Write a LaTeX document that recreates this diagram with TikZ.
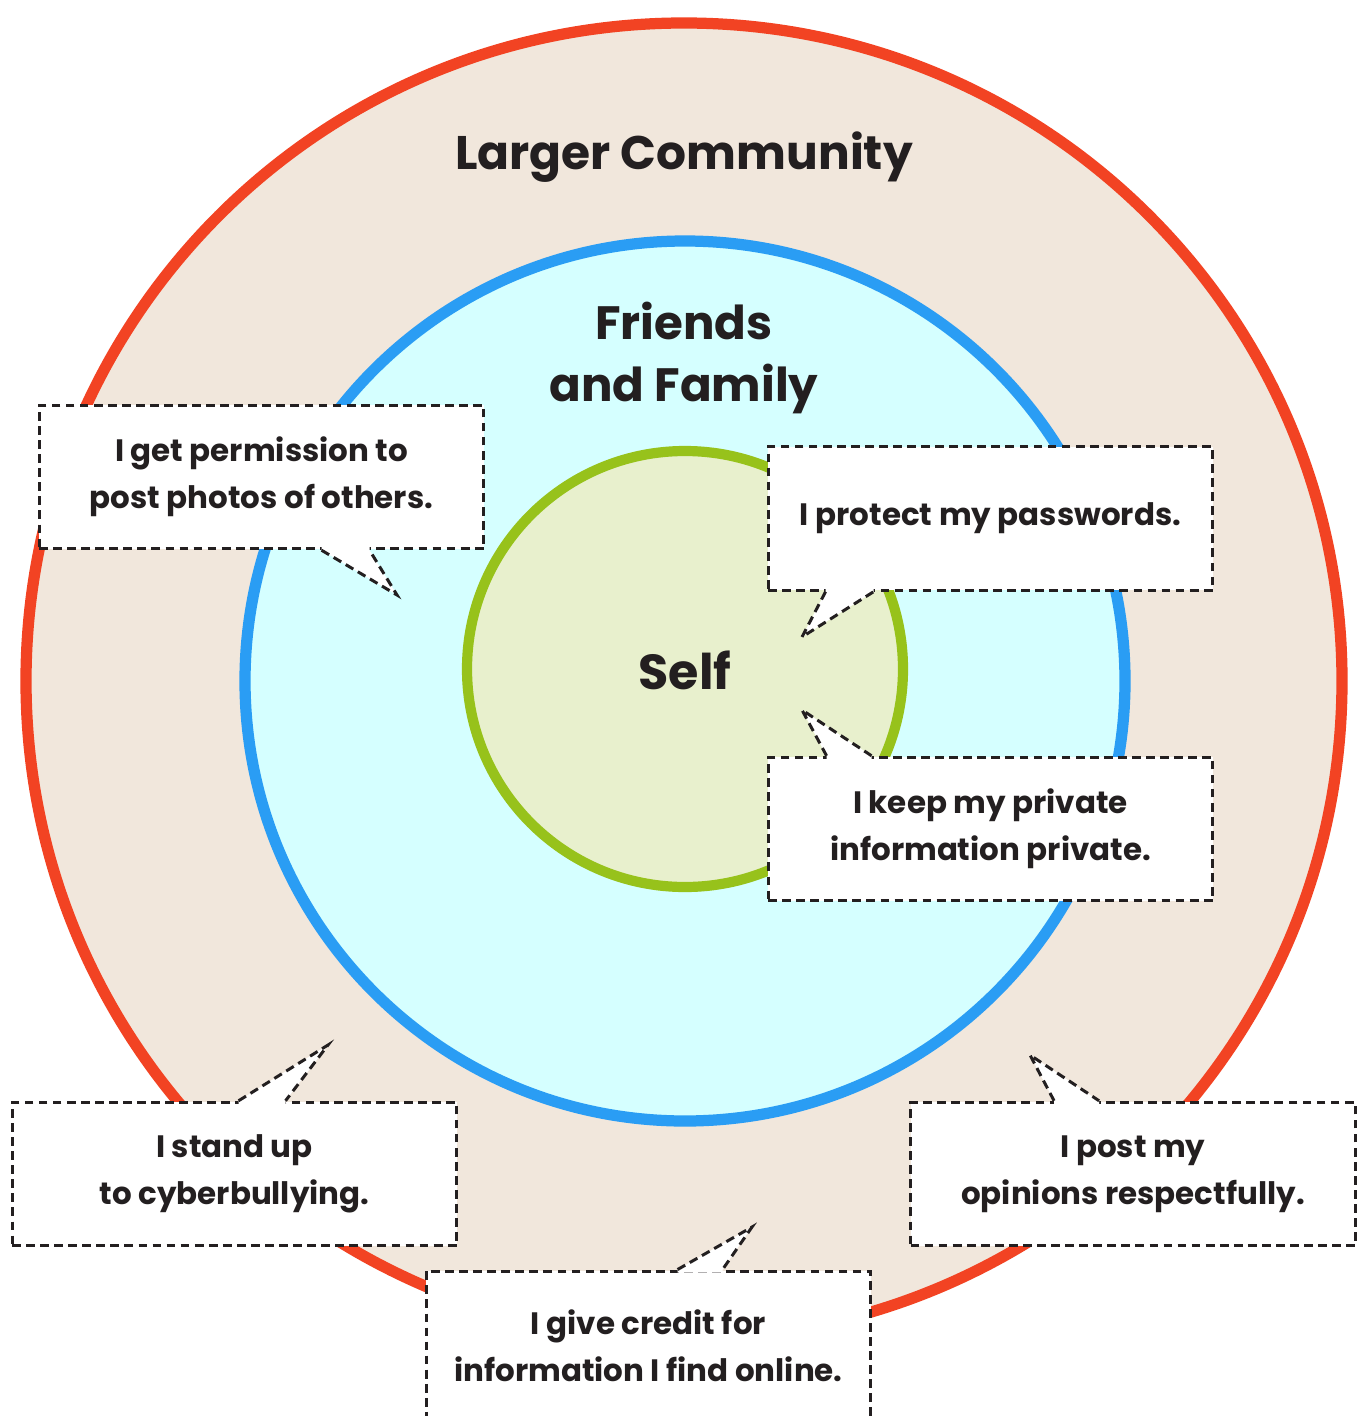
\documentclass[tikz,border=0pt]{standalone}
\usepackage{fontspec}
\setmainfont{Poppins}
\usetikzlibrary{calc}

\definecolor{ink}{HTML}{231F20}
\definecolor{commred}{HTML}{F24323}
\definecolor{commfill}{HTML}{F1E7DC}
\definecolor{famblue}{HTML}{2A9DF4}
\definecolor{famfill}{HTML}{D5FFFF}
\definecolor{selfgreen}{HTML}{97C21B}
\definecolor{selffill}{HTML}{E8F0CD}

\begin{document}
\begin{tikzpicture}[
    x=0.02cm, y=-0.02cm,
    ring/.style={line width=6.4pt},
    title/.style={align=center, text=ink, font=\bfseries\fontsize{26.6}{35}\selectfont},
    callout/.style={rectangle, draw=ink, fill=white, line width=1.7pt, dash pattern=on 5pt off 3pt,
        minimum width=8.9cm, minimum height=2.87cm, align=center, text=ink,
        font=\bfseries\fontsize{17.6}{26.6}\selectfont},
    tail/.style={draw=ink, line width=1.7pt, dash pattern=on 5pt off 3pt},
]
\useasboundingbox (0,0) rectangle (1366,1416);

% the three circles
\draw[ring, commred, fill=commfill] (684,681) circle (658);
\draw[ring, famblue, fill=famfill] (685,681) circle (440);
\draw[ring, line width=5.8pt, selfgreen, fill=selffill] (685,669) circle (218);

\node[title, font=\bfseries\fontsize{26.8}{36}\selectfont] (community) at (684,157) {Larger Community};
\node[title] (family) at (684,358) {Friends\\and Family};
\node[title, font=\bfseries\fontsize{28}{36}\selectfont] (self) at (685,670) {Self};

% callouts
\node[callout] (perm) at (261.5,477) {I get permission to\\post photos of others.};
\node[callout] (pass) at (990.5,518.5) {I protect my passwords.};
\node[callout] (priv) at (990.5,829) {I keep my private\\information private.};
\node[callout] (bully) at (234.5,1174) {I stand up\\to cyberbullying.};
\node[callout] (opin) at (1133,1174) {I post my\\opinions respectfully.};
\node[callout, minimum height=3.0cm] (credit) at (648.5,1346) {I give credit for\\information I find online.};

% pointers: box / corner / base offsets / tip / side
\foreach \b/\corner/\da/\db/\tx/\ty/\s in {
    perm/south west/284/332/397/595/-1,
    pass/south west/59/107/802/637/-1,
    priv/north west/60/105/802/710/1,
    bully/north west/228/275/328/1045/1,
    opin/north west/145/190/1030/1055/1,
    credit/north west/253/298/752/1227/1}
{
    \coordinate (\b-tip) at (\tx,\ty);
    \coordinate (\b-a) at ($(\b.\corner)+(\da,0)$);
    \coordinate (\b-b) at ($(\b.\corner)+(\db,0)$);
    \fill[white] (\b-a) -- (\b-tip) -- (\b-b) -- ++(0,3*\s) -- ($(\b-a)+(0,3*\s)$) -- cycle;
    \draw[tail] (\b-a) -- (\b-tip) -- (\b-b);
}
\end{tikzpicture}
\end{document}
